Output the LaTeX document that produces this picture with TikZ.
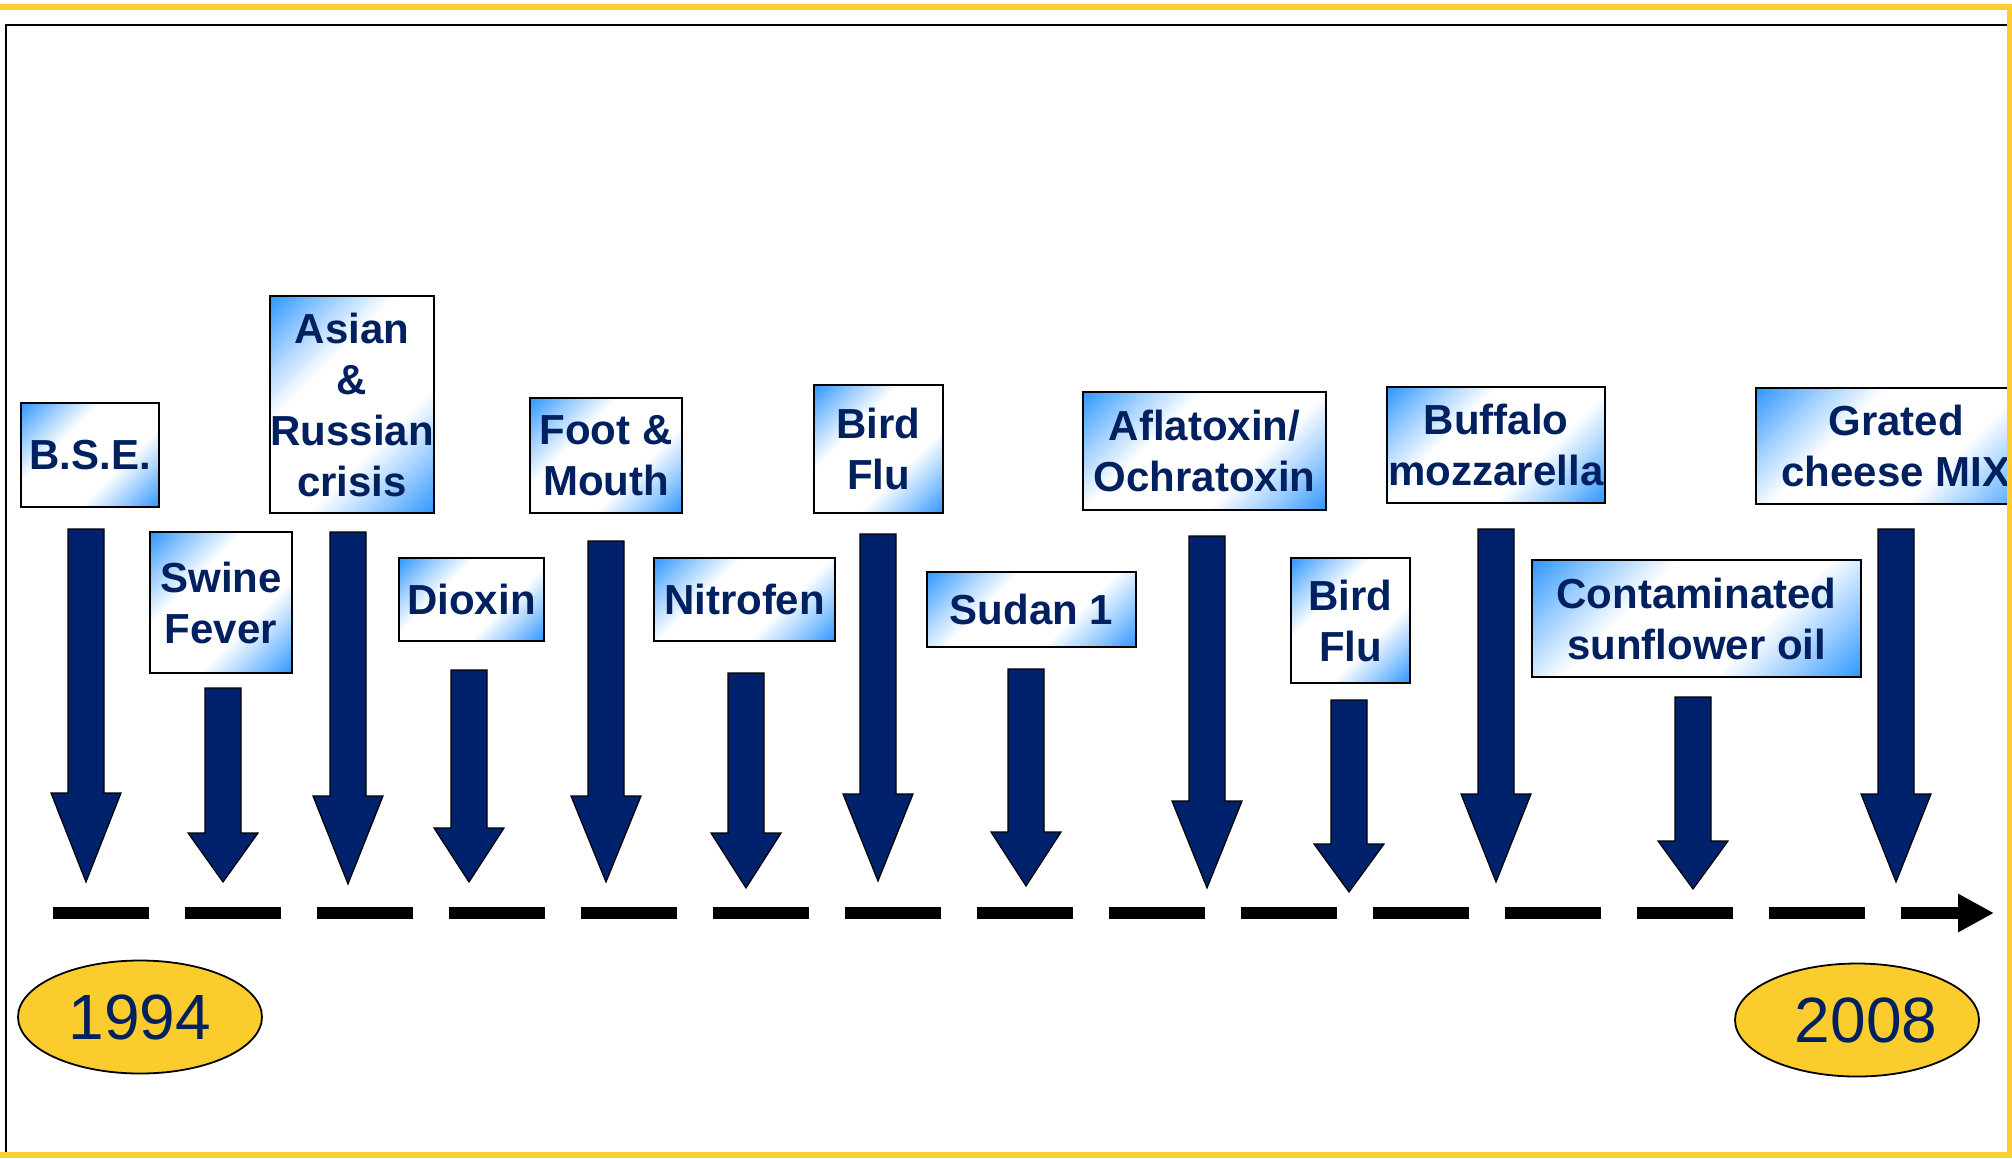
\documentclass[tikz,border=0pt]{standalone}
\usepackage{fontspec}
\setmainfont{Liberation Sans}
\usetikzlibrary{shapes.geometric,arrows.meta}
\definecolor{boxblue}{RGB}{51,153,255}
\definecolor{navyblue}{RGB}{0,32,96}
\definecolor{arrowblue}{RGB}{0,34,108}
\definecolor{yearyellow}{RGB}{250,204,46}
\definecolor{frameyellow}{RGB}{255,204,51}
\pgfdeclareverticalshading{cornerblue}{100bp}{color(0bp)=(boxblue); color(15bp)=(boxblue);
    color(26bp)=(boxblue!50!white); color(38bp)=(white); color(62bp)=(white);
    color(74bp)=(boxblue!50!white); color(85bp)=(boxblue); color(100bp)=(boxblue)}

\begin{document}
\begin{tikzpicture}[x=0.5pt, y=-0.5pt,
        event/.style = {draw, line width=1.2pt, inner sep=0pt, align=center, text=navyblue,
            font=\fontsize{21}{25.5}\selectfont\bfseries,
            shade, shading=cornerblue, shading angle=45},
        year/.style = {draw, ellipse, line width=0.9pt, fill=yearyellow, inner sep=0pt,
            minimum width=122pt, minimum height=56.5pt, text=navyblue,
            font=\fontsize{32}{38}\selectfont},
        blockarrow/.style = {draw=black, line width=0.6pt, fill=arrowblue, line join=miter},
        timeline/.style = {line width=6pt, dash pattern=on 48pt off 18pt,
            -{Triangle[length=18pt, width=18pt]}}]
    \useasboundingbox (0,0) rectangle (2012,1158);
    \draw[line width=1.2pt] (2008,25) -- (6,25) -- (6,1152);

    \node[event, minimum width=69pt, minimum height=52pt] (1) at (90,455) {B.S.E.};
    \node[event, minimum width=71pt, minimum height=70.5pt] (2) at (221,602.5) {Swine\\Fever};
    \node[event, minimum width=82pt, minimum height=108.5pt] (3) at (352,404.5) {Asian\\\&\\Russian\\crisis};
    \node[event, minimum width=72.5pt, minimum height=41.5pt] (4) at (471.5,599.5) {Dioxin};
    \node[event, minimum width=76pt, minimum height=57.5pt] (5) at (606,455.5) {Foot \&\\Mouth};
    \node[event, minimum width=90.5pt, minimum height=41.5pt] (6) at (744.5,599.5) {Nitrofen};
    \node[event, minimum width=64.5pt, minimum height=64pt] (7) at (878.5,449) {Bird\\Flu};
    \node[event, minimum width=104.5pt, minimum height=37.5pt] (8) at (1031.5,609.5) {Sudan 1};
    \node[event, minimum width=121.5pt, minimum height=59pt] (9) at (1204.5,451) {Aflatoxin/\\Ochratoxin};
    \node[event, minimum width=59.5pt, minimum height=62.5pt] (10) at (1350.5,620.5) {Bird\\Flu};
    \node[event, minimum width=109pt, minimum height=58pt] (11) at (1496,445) {Buffalo\\mozzarella};
    \node[event, minimum width=164.5pt, minimum height=58.5pt] (12) at (1696.5,618.5) {Contaminated\\sunflower oil};
    \node[event, minimum width=140pt, minimum height=58pt] (13) at (1896,446) {Grated\\cheese MIX};

    % x / shaft top / head base / tip
    \foreach \x/\t/\b/\p in {86/529/793/882, 223/688/833/882, 348/532/796/884, 469/670/828/882,
            606/541/796/882, 746/673/833/888, 878/534/794/881, 1026/669/832/886, 1207/536/801/888,
            1349/700/844/892, 1496/529/794/882, 1693/697/841/889, 1896/529/794/882}
        \draw[blockarrow] ({\x-18},\t) -- ({\x+18},\t) -- ({\x+18},\b) -- ({\x+35},\b)
            -- (\x,\p) -- ({\x-35},\b) -- ({\x-18},\b) -- cycle;

    \coordinate (start) at (53,913);
    \coordinate (end) at (1994,913);
    \draw[timeline] (start) -- (end);

    \node[year] (y1) at (140,1017) {1994};
    \node[year] (y2) at (1857,1020) {\hspace*{9pt}2008};

    \draw[frameyellow, line width=3pt] (0,7) -- (2010,7) -- (2010,1155) -- (0,1155);
\end{tikzpicture}
\end{document}
